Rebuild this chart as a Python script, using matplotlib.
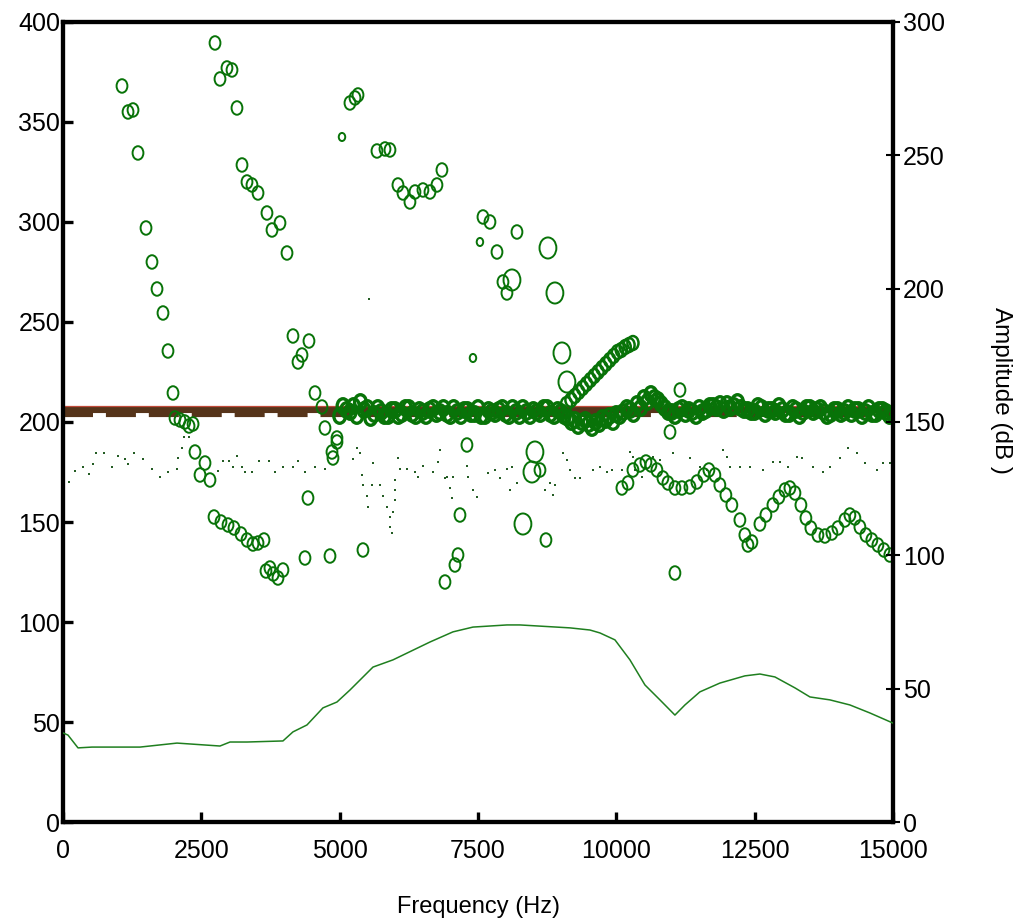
import matplotlib
matplotlib.use('Agg')
import matplotlib.pyplot as plt
from matplotlib.path import Path

plt.rcParams['font.family'] = ['Liberation Sans', 'DejaVu Sans']

# tracked partials: frequency (Hz), value (left axis), marker class (1 small, 2 normal, 3 large)
circ_f = [1066, 1175, 1265, 1355, 1500, 1608, 1699, 1807, 1897, 1988,
          2024, 2114, 2200, 2277, 2350, 2385, 2566, 2476, 2656,
          2747, 2963, 3054, 2837, 3144, 3235, 3325, 3415, 3524, 3686, 3777, 3921, 4048,
          2729, 2855, 2982, 3090, 3217, 3325, 3433, 3524, 3632,
          3668, 3740, 3800, 3885, 3975,
          4156, 4445, 4319, 4247, 4554, 4680, 4734, 4951, 4951, 4861, 4879, 4427,
          4373, 4825, 5421,
          5186, 5331, 5277, 5042, 5674, 5819, 5909, 6053, 6144, 6270, 6361, 6505, 6632, 6758, 6848,
          7590, 7716, 7535, 7843, 8204, 8764, 7951, 8114, 8023, 8890,
          7409, 9017, 9107, 7300, 8529, 8475, 8620,
          8312, 8728, 7174, 7138, 7083, 6903,
          10101, 10210, 10300, 10426, 10535, 10625, 10733, 10842, 10932, 11059, 11185, 11330,
          11456, 11582, 11673, 11781, 11871, 11980, 12088, 12233, 12323, 12378, 12450, 12595,
          12703, 12830, 12938, 13047, 13137, 13228, 13336, 13426, 13516, 13643, 13770, 13896,
          14004, 14131, 14221, 14311, 14402, 14510, 14618, 14727, 14835, 14943,
          11059, 10970, 11150]
circ_v = [368, 355, 356, 334.5, 297, 280, 266.5, 254.5, 235.5, 214.5,
          202, 201, 200, 198, 199, 185, 179.5, 173.5, 171,
          389.5, 377, 376, 371.5, 357, 328.5, 320, 318.5, 314.5, 304.5, 296, 299.5, 284.5,
          152.5, 150, 148.5, 147, 144, 141, 139, 139.5, 141,
          125.5, 127, 124, 122, 126,
          243, 240.5, 233.5, 230, 214.5, 207.5, 197, 192, 190, 185, 182, 162,
          132, 133, 136,
          359.5, 363.5, 362, 342.5, 335.5, 336.5, 336, 318.5, 314.5, 310, 315, 316, 315, 318.5, 326,
          302.5, 300, 290, 285, 295, 287, 270, 271, 264.5, 264.5,
          232, 234.5, 220, 188.5, 185, 175, 176,
          149, 141, 153.5, 133.5, 128.5, 120,
          167, 169.5, 176, 178.5, 180, 178.5, 176, 172, 169.5, 167, 167, 167.5,
          170, 173.5, 176, 173.5, 168.5, 163.5, 158.5, 151, 143.5, 138.5, 140, 149,
          153.5, 158.5, 162.5, 166, 167, 164.5, 158.5, 152, 147, 143.5, 143, 144.5,
          147, 151, 153.5, 152, 147.5, 143.5, 141, 138.5, 136, 133.5,
          124.5, 195, 216]
circ_k = [2, 2, 2, 2, 2, 2, 2, 2, 2, 2,
          2, 2, 2, 2, 2, 2, 2, 2, 2,
          2, 2, 2, 2, 2, 2, 2, 2, 2, 2, 2, 2, 2,
          2, 2, 2, 2, 2, 2, 2, 2, 2,
          2, 2, 2, 2, 2,
          2, 2, 2, 2, 2, 2, 2, 2, 2, 2, 2, 2,
          2, 2, 2,
          2, 2, 2, 1, 2, 2, 2, 2, 2, 2, 2, 2, 2, 2, 2,
          2, 2, 1, 2, 2, 3, 2, 3, 2, 3,
          1, 3, 3, 2, 3, 3, 2,
          3, 2, 2, 2, 2, 2,
          2, 2, 2, 2, 2, 2, 2, 2, 2, 2, 2, 2,
          2, 2, 2, 2, 2, 2, 2, 2, 2, 2, 2, 2,
          2, 2, 2, 2, 2, 2, 2, 2, 2, 2, 2, 2,
          2, 2, 2, 2, 2, 2, 2, 2, 2, 2,
          2, 2, 2]

# rising branch between 9 and 10.3 kHz
diag_f = [9100, 9180, 9250, 9320, 9390, 9460, 9530, 9600, 9670, 9740,
          9810, 9880, 9950, 10020, 10090, 10160, 10230, 10300]
diag_v = [209, 211, 213, 215, 217, 219, 221, 223, 225, 227,
          229, 231, 233, 235, 236, 237.5, 238.5, 239.5]

# dense band near the reference level
band_f = [5000, 5125, 5250, 5375, 5500, 5625, 5750, 5875, 6000, 6125, 6250, 6375,
          6500, 6625, 6750, 6875, 7000, 7125, 7250, 7375, 7500, 7625, 7750, 7875,
          8000, 8125, 8250, 8375, 8500, 8625, 8750, 8875, 9000, 9125, 9250, 9375,
          9500, 9625, 9750, 9875, 10000, 10125, 10250, 10375, 10500, 10625, 10750, 10875,
          11000, 11125, 11250, 11375, 11500, 11625, 11750, 11875, 12000, 12125, 12250, 12375,
          12500, 12625, 12750, 12875, 13000, 13125, 13250, 13375, 13500, 13625, 13750, 13875,
          14000, 14125, 14250, 14375, 14500, 14625, 14750, 14875, 15000]
band_v = [203, 206, 208, 210, 207, 204, 205, 203, 206, 204, 207, 203,
          205, 206, 204, 207, 203, 205, 206, 204, 207, 203, 205, 206,
          204, 207, 203, 205, 206, 204, 207, 203, 205, 202, 201, 200,
          199, 200, 202, 203, 204, 205, 206, 209, 212, 214, 211, 207,
          205, 206, 204, 205, 207, 206, 208, 209, 209, 208, 207, 206,
          205, 207, 206, 205, 206, 204, 206, 205, 207, 206, 205, 204,
          206, 205, 204, 206, 205, 204, 206, 205, 204]
band2_f = [5060, 5190, 5310, 5440, 5560, 5690, 5810, 5940, 6060, 6190, 6310, 6440,
           6560, 6690, 6810, 6940, 7060, 7190, 7310, 7440, 7560, 7690, 7810, 7940,
           8060, 8190, 8310, 8440, 8560, 8690, 8810, 8940, 9060, 9190, 9310, 9440,
           9560, 9690, 9810, 9940, 10060, 10190, 10310, 10440, 10560, 10690, 10810, 10940,
           11060, 11190, 11310, 11440, 11560, 11690, 11810, 11940, 12060, 12190, 12310, 12440,
           12560, 12690, 12810, 12940, 13060, 13190, 13310, 13440, 13560, 13690, 13810, 13940,
           14060, 14190, 14310, 14440, 14560, 14690, 14810, 14940]
band2_v = [208, 205, 203, 206, 202, 207, 203, 206, 203, 207, 204, 206,
           203, 207, 205, 204, 207, 203, 206, 204, 203, 206, 204, 207,
           203, 205, 207, 203, 205, 207, 204, 206, 203, 200, 198, 201,
           197, 199, 201, 200, 203, 207, 204, 207, 210, 212, 209, 205,
           203, 207, 206, 203, 205, 208, 207, 206, 207, 210, 206, 205,
           208, 204, 206, 208, 204, 207, 203, 207, 205, 207, 203, 206,
           204, 207, 206, 203, 207, 204, 206, 203]

# weak peaks (tiny dots)
dot_f = [108, 217, 361, 470, 542, 596, 741, 885, 994, 1120, 1175, 1283, 1446, 1608,
         1753, 1897, 2060, 2078, 2150, 2186, 2277, 2801, 2891, 3000, 3072, 3144, 3235,
         3289, 3415, 3542, 3723, 3831, 3975, 4156, 4247, 4373, 4554, 4734, 5313, 5367,
         5240, 5403, 5602, 5421, 5584, 5728, 5494, 5783, 5512, 5855, 5999, 5999, 5999,
         5909, 5963, 5909, 5945, 6053, 6090, 6216, 6361, 6415, 6505, 6686, 6812, 6776,
         6903, 6993, 7029, 6939, 7047, 7300, 7318, 7409, 7481, 7680, 7806, 7896, 8023,
         8114, 8204, 8078, 8710, 8800, 8890, 8854, 9035, 9107, 9162, 9252, 9342, 9577,
         9704, 9830, 9920, 10101, 10246, 10300, 10336, 10463, 10661, 10788, 11023, 11330,
         11510, 11637, 11926, 11998, 12052, 12233, 12414, 12649, 12830, 12956, 13101,
         13264, 13354, 13553, 13733, 13860, 14040, 14185, 14348, 14492, 14709, 14817,
         14943, 5530]
dot_v = [170, 175.5, 177.5, 174, 179, 184.5, 184.5, 177.5, 183, 181.5, 179, 184.5, 181.5,
         176.5, 172.5, 175, 176.5, 182, 187, 192.5, 192.5, 175.5, 180.5, 180.5, 177.5,
         183, 177.5, 175, 175, 180.5, 180.5, 175, 177.5, 177.5, 180.5, 175, 177.5, 176.5,
         187, 184.5, 181.5, 173.5, 179.5, 168.5, 168.5, 168.5, 163, 163, 157.5, 157.5,
         171, 166, 161, 152.5, 155, 147.5, 144.5, 182, 176.5, 176.5, 175, 172.5, 178,
         175, 186, 180, 172, 167, 162, 172.5, 172.5, 178, 172.5, 166, 162.5, 174.5, 176,
         172, 176.5, 177.5, 169.5, 166, 166, 169.5, 168.5, 163.5, 184.5, 181, 176, 172,
         172, 176, 177.5, 175, 176, 176, 185, 182.5, 176, 172.5, 182.5, 181, 184.5, 182,
         177.5, 176, 186, 182.5, 177.5, 177.5, 177.5, 176, 180, 180, 177.5, 182.5, 182,
         177.5, 175, 177.5, 182, 187, 184.5, 179.5, 176, 179.5, 179.5, 261.5]

# spectral envelope, right axis (dB)
env_f = [0, 90, 271, 524, 1391, 2060, 2837, 3018, 3325, 3975, 4156, 4409, 4698, 4951,
         5186, 5602, 5963, 6632, 7047, 7409, 8023, 8258, 9162, 9523, 9704, 9975, 10246,
         10517, 10788, 11059, 11240, 11510, 11871, 12323, 12595, 12866, 13228, 13499,
         13860, 14221, 14582, 15000]
env_db = [33.4, 32.6, 27.8, 28.1, 28.1, 29.6, 28.5, 30, 30, 30.4, 33.8, 36.4, 42.8, 45,
          49.5, 58.1, 60.8, 67.5, 71.3, 73.1, 73.9, 73.9, 72.8, 72, 70.9, 68.3, 60.8,
          51.4, 45.8, 40.1, 43.9, 48.8, 52.1, 54.8, 55.5, 54.4, 50.3, 46.9, 45.8, 43.9,
          40.9, 37.1]

ref_level = 205

size_of = {1: 34, 2: 95, 3: 230}
green = '#087308'

# letter-O shaped marker (slightly taller than wide)
uc = Path.unit_circle()
oval = Path(uc.vertices * [0.8, 1.0], uc.codes)

fig = plt.figure(figsize=(10.18, 9.23), dpi=100)
ax = fig.add_axes([0.0619, 0.1094, 0.8153, 0.8668])

ax.axhline(ref_level + 1.0, color='#56341a', lw=4.4, zorder=2)
ax.axhline(ref_level - 1.6, color='#56341a', lw=3, ls=(0, (7.2, 3.1)), zorder=2)
ax.axhline(ref_level + 3.0, color='#c04a3a', lw=0.9, zorder=2)

ax.scatter(dot_f, dot_v, s=3, marker='s', color='#245c24', linewidths=0, zorder=3)
ax.scatter(band_f, band_v, s=110, marker=oval, facecolors='none', edgecolors=green,
           linewidths=2.4, zorder=4)
ax.scatter(band2_f, band2_v, s=110, marker=oval, facecolors='none', edgecolors=green,
           linewidths=2.4, zorder=4)
ax.scatter(diag_f, diag_v, s=100, marker=oval, facecolors='none', edgecolors=green,
           linewidths=1.8, zorder=4)
ax.scatter(circ_f, circ_v, s=[size_of[k] for k in circ_k], marker=oval, facecolors='none',
           edgecolors=green, linewidths=1.4, zorder=4)

ax.set_xlim(0, 15000)
ax.set_ylim(0, 400)
ax.set_xticks(range(0, 15001, 2500))
ax.set_yticks(range(0, 401, 50))
ax.tick_params(axis='both', labelsize=18)
ax.tick_params(axis='y', direction='in', length=7, width=2.4, pad=2)
ax.tick_params(axis='x', direction='in', length=7, width=2.4, pad=12)
ax.set_xlabel('Frequency (Hz)', fontsize=17, labelpad=24)
for sp in ax.spines.values():
    sp.set_linewidth(3)

ax2 = ax.twinx()
ax2.plot(env_f, env_db, color='#1f7f1f', lw=1.1, zorder=3)
ax2.set_ylim(0, 300)
ax2.set_yticks(range(0, 301, 50))
ax2.tick_params(axis='y', direction='inout', length=10, width=1.5, pad=2, labelsize=18)
ax2.set_ylabel('Amplitude (dB )', fontsize=17.5, rotation=-90, va='center')
ax2.yaxis.set_label_coords(1.13, 0.54)
for sp in ax2.spines.values():
    sp.set_linewidth(3)

fig.savefig('out.png', dpi=100)
